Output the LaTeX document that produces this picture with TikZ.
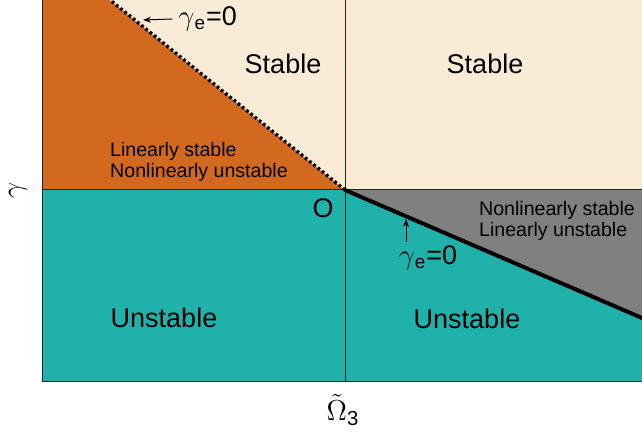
\documentclass[tikz,border=0pt]{standalone}
\usepackage{fontspec}
\setmainfont{Liberation Sans}
\usepackage{tikz}
\usetikzlibrary{arrows.meta,positioning,calc}
\definecolor{rust}{HTML}{D2691E}
\definecolor{cream}{HTML}{FAEBD7}
\definecolor{sea}{HTML}{20B2AA}
\definecolor{slate}{HTML}{808080}
\definecolor{ink}{HTML}{000000}
\tikzset{
  big/.style={font=\fontsize{13.5}{15}\selectfont,text=ink,inner sep=1pt},
  small/.style={font=\fontsize{9.8}{10.2}\selectfont,align=left,text=ink,inner sep=1pt},
  arr/.style={-{Stealth[length=4pt,width=3pt]},line width=0.5pt,draw=ink},
  border/.style={line width=0.5pt,draw=black!85}
}
\begin{document}
\begin{tikzpicture}[x=0.5pt,y=0.5pt]
    \useasboundingbox (0,-51) rectangle (642,382);
    % regions
    \fill[rust] (42,192) -- (42,382) -- (110,382) -- (345,192) -- cycle;
    \fill[cream] (110,382) -- (642,382) -- (642,192) -- (345,192) -- cycle;
    \fill[slate] (345,192) -- (642,192) -- (642,64) -- cycle;
    \fill[sea] (42,0) -- (42,192) -- (345,192) -- (642,64) -- (642,0) -- cycle;
    % axes and frame
    \draw[border] (42,192) -- (642,192);
    \draw[border] (345,0) -- (345,382);
    \draw[border] (642,382) -- (42,382) -- (42,0) -- (642,0);
    % boundaries gamma_e=0
    \coordinate (O) at (345,192);
    \coordinate (top) at (110,382);
    \coordinate (rgt) at (642,64);
    \draw[line width=1.7pt,dash pattern=on 1.4pt off 1.3pt] (O) -- (top);
    \draw[line width=2pt,line cap=round] (O) -- (rgt);
    % labels
    \node[big] (stL) at (283,318) {Stable};
    \node[big] (stR) at (485,318) {Stable};
    \node[big] (unL) at (164,64) {Unstable};
    \node[big] (unR) at (467,63) {Unstable};
    \node[small] (lsnu) at (199,220) {Linearly stable\\Nonlinearly unstable};
    \node[small] (nslu) at (557,161) {Nonlinearly stable\\Linearly unstable};
    \node[big] (orig) at (323,174) {O};
    \node[big,anchor=west,inner sep=3pt] (geT) at (172,363) {$\gamma$\textsubscript{e}=0};
    \coordinate (geTtip) at (143,362);
    \draw[arr] (geT.west) -- (geTtip);
    \node[big] (geB) at (428,124) {$\gamma$\textsubscript{e}=0};
    \coordinate (geBtail) at (406,140);
    \coordinate (geBtip) at (406,163);
    \draw[arr] (geBtail) -- (geBtip);
    \node[big,rotate=90] (ylab) at (18,192) {$\gamma$};
    \node[big,font=\fontsize{14.5}{16}\selectfont] (xlab) at (343,-28) {$\tilde{\Omega}$\textsubscript{3}};
  \end{tikzpicture}
\end{document}
